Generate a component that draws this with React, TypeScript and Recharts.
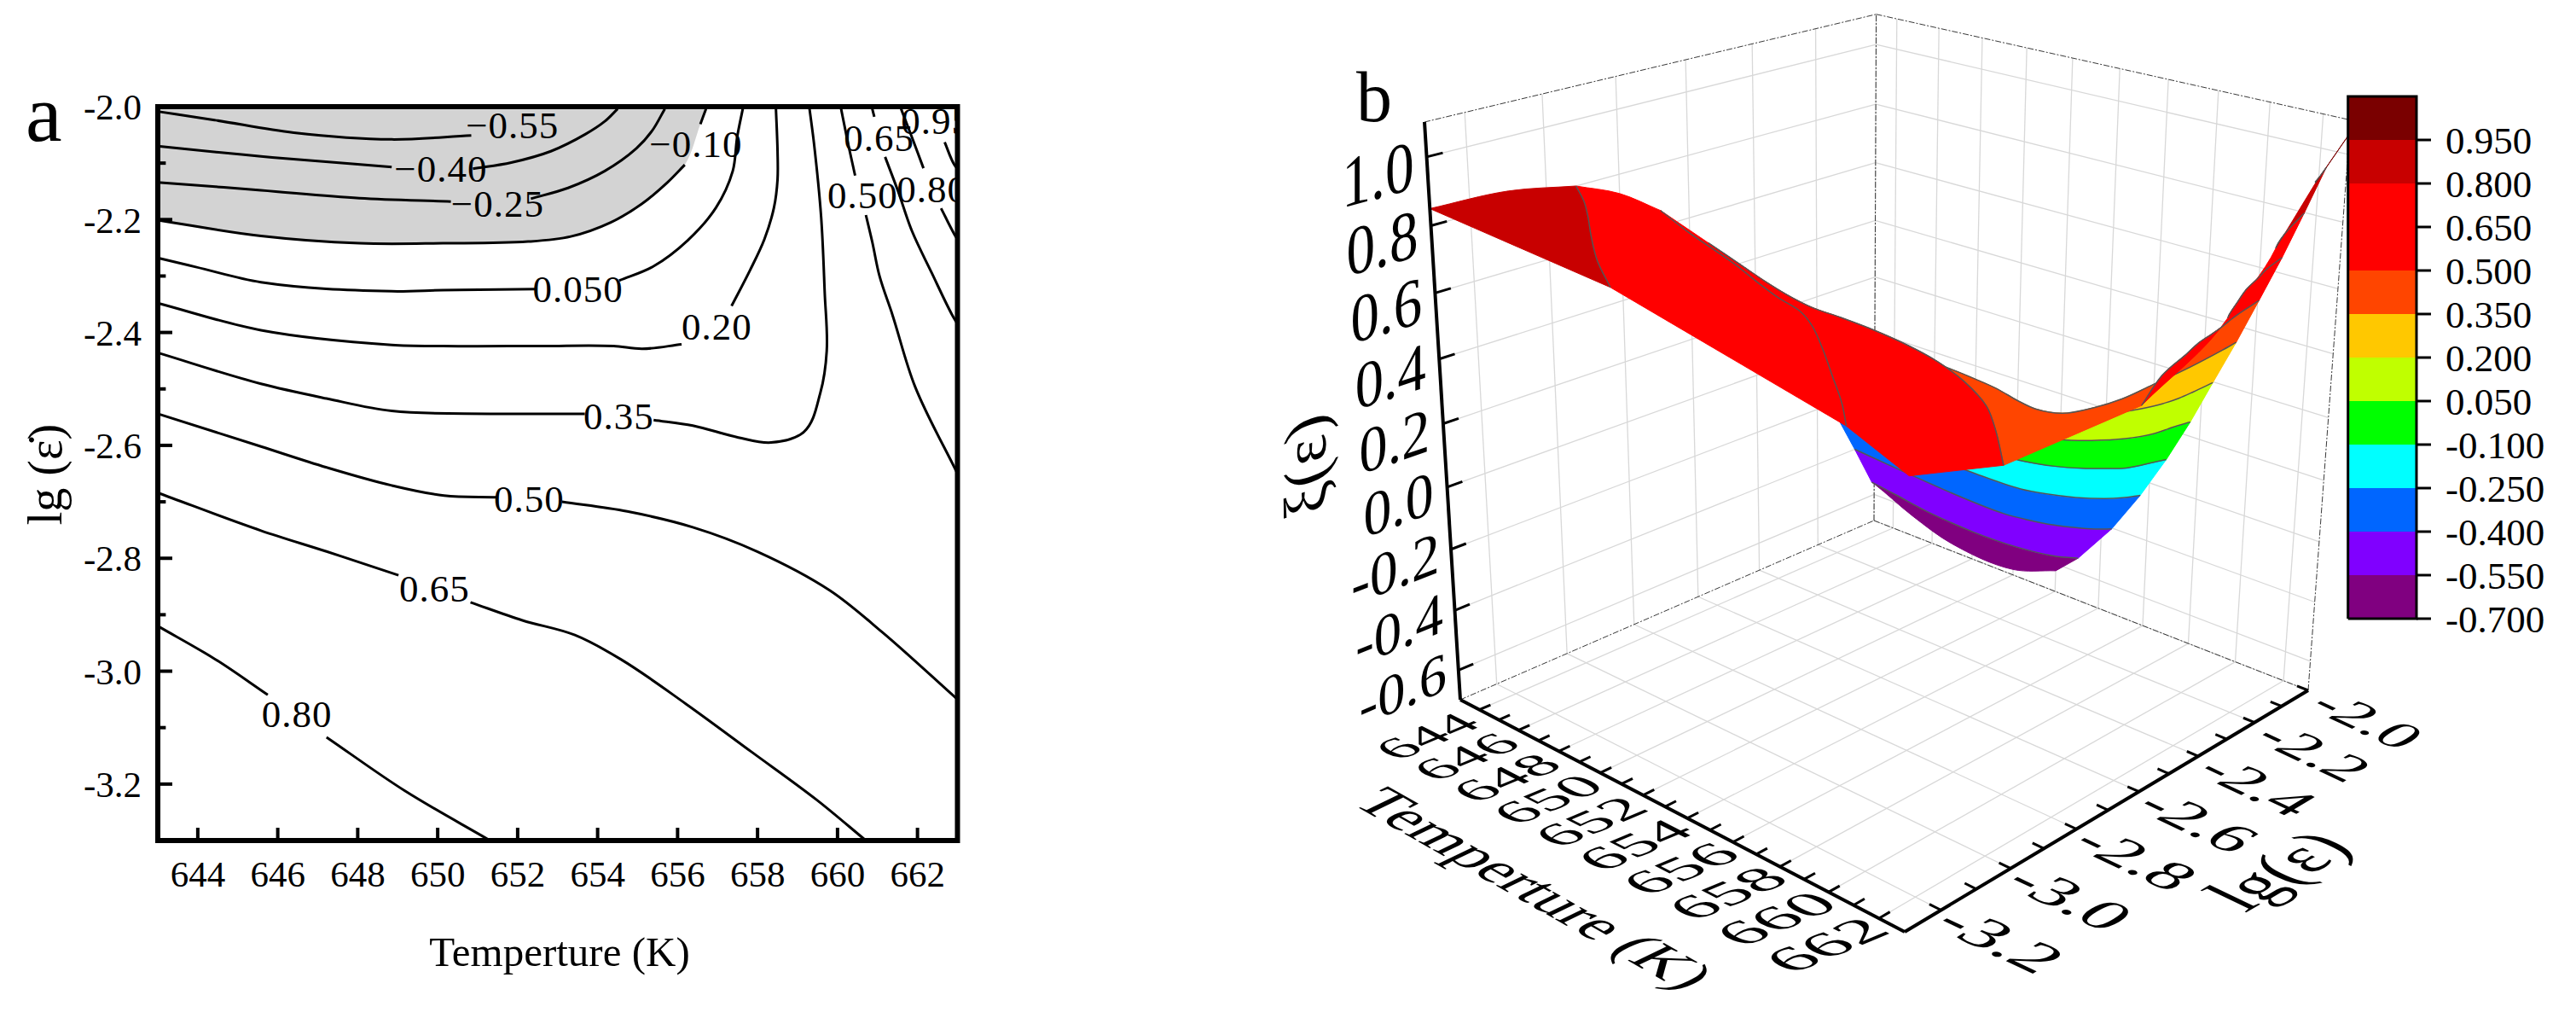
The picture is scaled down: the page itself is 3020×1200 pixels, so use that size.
import { Area, ComposedChart, Line, Scatter, XAxis, YAxis } from 'recharts'

type Pt = [number, number]
type Pt3 = [number, number, number]

const SERIF = '"Liberation Serif", serif'

// contour lines: [temperature, lg rate], split where an inline label interrupts them
const cM055: Pt[][] = [
  [[643, -2.0085], [644.44, -2.024], [646.4, -2.046], [648.85, -2.058], [650.84, -2.051]],
  [[652.3, -2.028]],
  [[653, -2]],
]
const cM040: Pt[][] = [
  [[643, -2.07], [645.58, -2.088], [648.85, -2.107]],
  [[650.88, -2.11], [651.84, -2.099], [652.83, -2.079], [653.69, -2.049], [654.18, -2.026], [654.5, -2.004]],
]
const cM025: Pt[][] = [
  [[643, -2.134], [645.58, -2.148], [648.04, -2.162], [650.33, -2.168]],
  [[652.33, -2.163], [653.26, -2.144], [654.18, -2.114], [654.97, -2.074], [655.36, -2.043], [655.68, -2.004]],
]
const cM010: Pt[][] = [
  [[643, -2.201], [645.58, -2.229], [648.04, -2.242], [650.13, -2.242], [652.26, -2.239], [653.33, -2.23], [654.33, -2.205], [655.11, -2.172], [655.75, -2.134], [656.18, -2.103]],
  [[656.57, -2.031], [656.71, -2.004]],
]
const c005: Pt[][] = [
  [[643, -2.268], [643.95, -2.284], [645.58, -2.311], [648.85, -2.327], [650.13, -2.325], [652.48, -2.323]],
  [[654.54, -2.308], [655.39, -2.283], [656.25, -2.237], [656.96, -2.179], [657.38, -2.114], [657.49, -2.054], [657.63, -2.004]],
]
const c020: Pt[][] = [
  [[643, -2.348], [645.58, -2.396], [648.85, -2.422], [650.13, -2.424], [652.62, -2.424], [654.4, -2.424], [655.11, -2.429], [656.1, -2.421]],
  [[657.35, -2.353], [657.81, -2.29], [658.17, -2.235], [658.41, -2.179], [658.5, -2.129], [658.5, -2.079], [658.46, -2.004]],
]
const c035: Pt[][] = [
  [[643, -2.436], [645.58, -2.491], [647.22, -2.517], [648.85, -2.539], [651.31, -2.544], [653.68, -2.544]],
  [[655.4, -2.555], [656.38, -2.565], [657.52, -2.586], [658.34, -2.595], [659.16, -2.576], [659.57, -2.507], [659.73, -2.433], [659.68, -2.33], [659.59, -2.195], [659.41, -2.064], [659.3, -2.004]],
]
const c050Main: Pt[][] = [
  [[643, -2.544], [645.58, -2.602], [647.22, -2.639], [648.85, -2.671], [650.16, -2.689], [651.47, -2.692]],
  [[653.11, -2.7], [654.74, -2.717], [656.38, -2.745], [657.99, -2.788], [659.81, -2.857], [661.12, -2.931], [663, -3.05]],
]
const c050Branch: Pt[][] = [
  [[660.09, -2.004], [660.26, -2.064], [660.44, -2.122]],
  [[660.71, -2.192], [660.87, -2.24], [661.05, -2.3], [661.37, -2.368], [661.94, -2.496], [663, -2.65]],
]
const c065Main: Pt[][] = [
  [[643, -2.684], [645.58, -2.751], [647.22, -2.788], [649.02, -2.83]],
  [[650.82, -2.878], [652.12, -2.91], [653.43, -2.936], [654.58, -2.979], [656.21, -3.058], [657.85, -3.143], [659.48, -3.228], [660.71, -3.3]],
]
const c065Branch: Pt[][] = [
  [[660.87, -2.004], [660.92, -2.018]],
  [[661.19, -2.089], [661.51, -2.149], [661.86, -2.22], [662.36, -2.295], [662.86, -2.368], [663, -2.385]],
]
const c080Main: Pt[][] = [
  [[643, -2.92], [644.44, -2.979], [645.75, -3.042]],
  [[647.22, -3.117], [649.18, -3.212], [651.31, -3.3]],
]
const c080Branch: Pt[][] = [
  [[661.59, -2.004], [661.86, -2.054], [662.15, -2.109]],
  [[662.59, -2.18], [662.93, -2.227], [663, -2.235]],
]
const c095Branch: Pt[][] = [
  [[662.29, -2.004]],
  [[662.68, -2.063], [662.93, -2.104], [663, -2.11]],
]

const contourLines = [cM055, cM040, cM025, cM010, c005, c020, c035, c050Main, c050Branch, c065Main, c065Branch, c080Main, c080Branch, c095Branch]

// inline contour labels of panel a
const contourLabels: { text: string; x: number; y: number }[] = [
  { text: '−0.55', x: 651.87, y: -2.034 },
  { text: '−0.40', x: 650.08, y: -2.111 },
  { text: '−0.25', x: 651.5, y: -2.173 },
  { text: '−0.10', x: 656.46, y: -2.067 },
  { text: '0.050', x: 653.51, y: -2.323 },
  { text: '0.20', x: 656.98, y: -2.39 },
  { text: '0.35', x: 654.53, y: -2.549 },
  { text: '0.50', x: 652.29, y: -2.696 },
  { text: '0.65', x: 649.92, y: -2.854 },
  { text: '0.80', x: 646.48, y: -3.076 },
  { text: '0.50', x: 660.63, y: -2.157 },
  { text: '0.65', x: 661.04, y: -2.056 },
  { text: '0.80', x: 662.36, y: -2.146 },
  { text: '0.95', x: 662.47, y: -2.026 },
]

const tempTicks = [644, 646, 648, 650, 652, 654, 656, 658, 660, 662]
const tempAllTicks = [644, 645, 646, 647, 648, 649, 650, 651, 652, 653, 654, 655, 656, 657, 658, 659, 660, 661, 662]
const rateTicks = [-2, -2.2, -2.4, -2.6, -2.8, -3, -3.2]
const rateMinor = [-2.1, -2.3, -2.5, -2.7, -2.9, -3.1]
const xiTicks = [-0.6, -0.4, -0.2, 0, 0.2, 0.4, 0.6, 0.8, 1]

// colour scale of panel b, bottom to top
const scaleEdges = [-0.7, -0.55, -0.4, -0.25, -0.1, 0.05, 0.2, 0.35, 0.5, 0.65, 0.8, 0.95, 1.1]
const scaleColors = ['#800080', '#8000FF', '#0066FF', '#00FFFF', '#00FF00', '#C0FF00', '#FFC800', '#FF4500', '#FF0000', '#FF0000', '#C80000', '#7A0000']
const scaleTicks = [-0.7, -0.55, -0.4, -0.25, -0.1, 0.05, 0.2, 0.35, 0.5, 0.65, 0.8, 0.95]

// heights read along the rims of the surface
const rimLow: Pt3[] = [[652, -2, -0.625], [650, -2, -0.68], [647, -2, -0.673], [645, -2, -0.626], [643, -2, -0.56]]
const rimLeftHigh: Pt3[] = [[643, -3.3, 0.85], [643, -3.1, 0.84]]
const rimLeftMid: Pt3 = [643, -2.8, 0.74]
const cornerFront: Pt3 = [663, -3.3, 0.58]
const cornerRight: Pt3 = [663, -2, 1.06]

// box corners of the 3D view on the page; the perspective weights follow from them
const vA = [1712, 820]
const vB = [2233, 1092]
const vC = [2706, 809]
const vD = [2197, 610]
const vE = [1670, 143]
const sumX = vA[0] - vB[0] + vC[0] - vD[0]
const sumY = vA[1] - vB[1] + vC[1] - vD[1]
const d1 = [vB[0] - vC[0], vB[1] - vC[1]]
const d2 = [vD[0] - vC[0], vD[1] - vC[1]]
const det = d1[0] * d2[1] - d2[0] * d1[1]
const wS = (sumX * d2[1] - d2[0] * sumY) / det
const wR = (d1[0] * sumY - sumX * d1[1]) / det
const wQ = -0.085

function project([t, lg, xi]: Pt3) {
  const s = (t - 643) / 20
  const r = (lg + 3.3) / 1.3
  const q = (xi + 0.7) / 1.8
  const w = 1 + wS * s + wR * r + wQ * q
  const at = (i: number) =>
    (vA[i] + (vB[i] * (1 + wS) - vA[i]) * s + (vD[i] * (1 + wR) - vA[i]) * r + (vE[i] * (1 + wQ) - vA[i]) * q) / w
  return { x: at(0), y: at(1) }
}

// curve type for Recharts: a smooth cubic through the points; a turn sharper than minCos stays a corner
const smoothCurve = (minCos: number) => (context: any) => {
  let pts: number[][] = []
  let line = NaN
  const unit = (x: number, y: number) => {
    const n = Math.hypot(x, y) || 1
    return [x / n, y / n]
  }
  const tangent = (i: number) => {
    if (i === 0 || i === pts.length - 1) return null
    const a = unit(pts[i][0] - pts[i - 1][0], pts[i][1] - pts[i - 1][1])
    const b = unit(pts[i + 1][0] - pts[i][0], pts[i + 1][1] - pts[i][1])
    if (a[0] * b[0] + a[1] * b[1] < minCos) return null
    return unit(a[0] + b[0], a[1] + b[1])
  }
  return {
    areaStart() {
      line = 0
    },
    areaEnd() {
      line = NaN
    },
    lineStart() {
      pts = []
    },
    point(x: number, y: number) {
      pts.push([x, y])
    },
    lineEnd() {
      if (pts.length) {
        if (line) context.lineTo(pts[0][0], pts[0][1])
        else context.moveTo(pts[0][0], pts[0][1])
        for (let i = 0; i + 1 < pts.length; i++) {
          const [x0, y0] = pts[i]
          const [x1, y1] = pts[i + 1]
          const len = Math.hypot(x1 - x0, y1 - y0) / 3
          const dir = unit(x1 - x0, y1 - y0)
          const t0 = tangent(i) || dir
          const t1 = tangent(i + 1) || dir
          context.bezierCurveTo(x0 + t0[0] * len, y0 + t0[1] * len, x1 - t1[0] * len, y1 - t1[1] * len, x1, y1)
        }
      }
      if (line || (line !== 0 && pts.length === 1)) context.closePath()
      line = 1 - line
    },
  }
}
const contourCurve = smoothCurve(-1) as any
const surfaceCurve = smoothCurve(0.88) as any

const lift = (segs: Pt[][], xi: number): Pt3[] => segs.flat().map(([t, lg]) => [t, lg, xi] as Pt3)
const viewRows = (pts: Pt3[]) => pts.map(project)
const closed = <T,>(rows: T[]) => [...rows, rows[0]]
const flip = <T,>(arr: T[]) => [...arr].reverse()

const lM055 = lift(cM055, -0.55)
const lM040 = lift(cM040, -0.4)
const lM025 = lift(cM025, -0.25)
const lM010 = lift(cM010, -0.1)
const l005 = lift(c005, 0.05)
const l020 = lift(c020, 0.2)
const l035 = lift(c035, 0.35)
const l050M = lift(c050Main, 0.5)
const l050B = lift(c050Branch, 0.5)
const l065M = lift(c065Main, 0.65)
const l065B = lift(c065Branch, 0.65)
const l080M = lift(c080Main, 0.8)
const l080B = lift(c080Branch, 0.8)
const l095B = lift(c095Branch, 0.95)

// painted low to high: the higher sheets of the surface are the ones nearer the viewer
const surfaceBands: { color: string; verts: Pt3[]; edges: Pt3[][] }[] = [
  { color: scaleColors[0], verts: [...lM055, ...rimLow], edges: [] },
  { color: scaleColors[1], verts: [...lM055, ...flip(lM040)], edges: [lM055] },
  { color: scaleColors[2], verts: [...lM040, ...flip(lM025)], edges: [lM040] },
  { color: scaleColors[3], verts: [...lM025, ...flip(lM010)], edges: [lM025] },
  { color: scaleColors[4], verts: [...lM010, ...flip(l005)], edges: [lM010] },
  { color: scaleColors[5], verts: [...l005, ...flip(l020)], edges: [l005] },
  { color: scaleColors[6], verts: [...l020, ...flip(l035)], edges: [l020] },
  { color: scaleColors[7], verts: [...l035, ...l050B, ...flip(l050M)], edges: [l035] },
  { color: scaleColors[8], verts: [...l050B, ...flip(l065B)], edges: [l050B] },
  { color: scaleColors[8], verts: [...l050M, cornerFront, ...flip(l065M)], edges: [l050M] },
  { color: scaleColors[9], verts: [...l065B, ...flip(l080B)], edges: [l065B] },
  { color: scaleColors[9], verts: [...l065M, ...flip(l080M), rimLeftMid], edges: [l065M] },
  { color: scaleColors[10], verts: [...l080B, ...flip(l095B)], edges: [l080B] },
  { color: scaleColors[10], verts: [...l080M, ...rimLeftHigh], edges: [l080M] },
  { color: scaleColors[11], verts: [...l095B, cornerRight], edges: [l095B] },
]

const gridSegments: Pt3[][] = [
  ...tempTicks.map((t): Pt3[] => [[t, -3.3, -0.7], [t, -2, -0.7]]),
  ...rateTicks.map((lg): Pt3[] => [[643, lg, -0.7], [663, lg, -0.7]]),
  ...rateTicks.map((lg): Pt3[] => [[643, lg, -0.7], [643, lg, 1.1]]),
  ...xiTicks.map((xi): Pt3[] => [[643, -3.3, xi], [643, -2, xi]]),
  ...tempTicks.map((t): Pt3[] => [[t, -2, -0.7], [t, -2, 1.1]]),
  ...xiTicks.map((xi): Pt3[] => [[643, -2, xi], [663, -2, xi]]),
]

const boxSegments: Pt3[][] = [
  [[643, -3.3, -0.7], [643, -2, -0.7]],
  [[643, -2, -0.7], [663, -2, -0.7]],
  [[643, -2, -0.7], [643, -2, 1.1]],
  [[643, -3.3, 1.1], [643, -2, 1.1]],
  [[643, -2, 1.1], [663, -2, 1.1]],
  [[663, -2, -0.7], [663, -2, 1.1]],
]

const axisSegments: Pt3[][] = [
  [[643, -3.3, -0.7], [663, -3.3, -0.7]],
  [[663, -3.3, -0.7], [663, -2, -0.7]],
  [[643, -3.3, -0.7], [643, -3.3, 1.1]],
  ...tempAllTicks.map((t): Pt3[] => [[t, -3.3, -0.7], [t, -3.27, -0.7]]),
  ...[...rateTicks, ...rateMinor].map((lg): Pt3[] => [[663, lg, -0.7], [662.55, lg, -0.7]]),
  ...xiTicks.map((xi): Pt3[] => [[643, -3.3, xi], [643, -3.26, xi]]),
]

const shifted = (p: { x: number; y: number }, dx: number, dy: number) => ({ x: p.x + dx, y: p.y + dy })

const tempLabelRows = tempTicks.map((t) => {
  const grow = 1 + ((t - 644) / 18) * 0.18
  return {
    ...shifted(project([t, -3.3, -0.7]), -62, 31),
    text: String(t),
    size: 60,
    m: [1.12 * grow, -0.47 * grow, 0.8 * grow, 0.41 * grow],
  }
})
const rateLabelRows = rateTicks.map((lg) => {
  const grow = 0.96 + ((-2 - lg) / 1.2) * 0.14
  return {
    ...shifted(project([663, lg, -0.7]), 70, 35),
    text: lg.toFixed(1),
    size: 60,
    m: [1.19 * grow, 0.56 * grow, -0.9 * grow, 0.54 * grow],
  }
})
const xiLabelRows = xiTicks.map((xi) => {
  const tilt = ((-15 - (1 - xi) * 5) * Math.PI) / 180
  return {
    ...shifted(project([643, -3.3, xi]), xi < 0 ? -65 : -57, xi < 0 ? 22 : 20),
    text: xi.toFixed(1),
    size: 70,
    m: [Math.cos(tilt), Math.sin(tilt), 0, 1.05 + 0.15 * xi],
  }
})
const titleRows = [
  { x: 1800, y: 1041, text: 'Temperture (K)', size: 60, m: [1.04, 0.59, -1.08, 0.52] },
  { x: 2670, y: 1020, text: 'lg(ε)', size: 60, m: [1.15, -0.67, 1.29, 0.62] },
  { x: 1530, y: 547, text: 'ξ(ε)', size: 72, m: [0, -1.04, 0.98, -0.34] },
]

const PlacedText = (props: any) => {
  const { cx, cy, payload } = props
  const [a, b, c, d] = payload.m
  return (
    <text
      transform={`matrix(${a} ${b} ${c} ${d} ${cx} ${cy})`}
      y={payload.size * 0.34}
      textAnchor="middle"
      fontFamily={SERIF}
      fontSize={payload.size}
      fill="#000"
    >
      {payload.text}
    </text>
  )
}

const ContourLabel = (props: any) => (
  <text
    x={props.cx}
    y={props.cy + 15}
    textAnchor="middle"
    fontFamily={SERIF}
    fontSize={45}
    letterSpacing={1}
    fill="#000"
    clipPath="url(#plot-a)"
  >
    {props.payload.text}
  </text>
)

const tickFont = { fontSize: 43, fill: '#000', fontFamily: SERIF }
const tickLine = { stroke: '#000', strokeWidth: 4 }

function PanelA() {
  const rows = (seg: Pt[]) => seg.map(([x, y]) => ({ x, y }))
  const gray = closed(rows([...cM010.flat(), [643, -2]]))
  const frame = closed(rows([[643, -2], [663, -2], [663, -3.3], [643, -3.3]]))
  return (
    <ComposedChart
      width={1200}
      height={1200}
      margin={{ top: 125, right: 77.5, bottom: 135, left: 55 }}
      style={{ position: 'absolute', left: 0, top: 0 }}
    >
      <XAxis
        dataKey="x"
        type="number"
        domain={[643, 663]}
        ticks={tempTicks}
        interval={0}
        height={80}
        tickSize={-15}
        tickMargin={38}
        tick={tickFont}
        tickLine={tickLine}
        axisLine={false}
      />
      <YAxis
        dataKey="y"
        type="number"
        domain={[-3.3, -2]}
        ticks={rateTicks}
        interval={0}
        width={130}
        tickSize={-17}
        tickMargin={36}
        tickFormatter={(v: number) => v.toFixed(1)}
        tick={tickFont}
        tickLine={tickLine}
        axisLine={false}
      />
      <Area data={gray} dataKey="y" type={surfaceCurve} baseValue={-3.3} fill="#D3D3D3" fillOpacity={1} stroke="none" dot={false} activeDot={false} isAnimationActive={false} />
      {contourLines.flatMap((segs, i) =>
        segs
          .filter((seg) => seg.length > 1)
          .map((seg, j) => (
            <Line key={`${i}-${j}`} data={rows(seg)} dataKey="y" type={contourCurve} stroke="#000" strokeWidth={3} dot={false} activeDot={false} isAnimationActive={false} />
          )),
      )}
      {rateMinor.map((lg) => (
        <Line key={lg} data={rows([[643, lg], [643.2, lg]])} dataKey="y" type="linear" stroke="#000" strokeWidth={4} dot={false} activeDot={false} isAnimationActive={false} />
      ))}
      <Line data={frame} dataKey="y" type="linear" stroke="#000" strokeWidth={6} strokeLinecap="square" dot={false} activeDot={false} isAnimationActive={false} />
      <Scatter data={contourLabels} shape={ContourLabel} isAnimationActive={false} />
    </ComposedChart>
  )
}

function PanelB() {
  // everything that must stack with the surface is an Area, so that the order below is the paint order
  const stroked = (seg: Pt3[], key: string, stroke: string, width: number, dash?: string, curve: any = 'linear') => (
    <Area key={key} data={viewRows(seg)} dataKey="y" type={curve} baseValue={1200} fill="none" stroke={stroke} strokeWidth={width} strokeDasharray={dash} dot={false} activeDot={false} isAnimationActive={false} />
  )
  return (
    <ComposedChart width={1620} height={1200} margin={{ top: 0, right: 0, bottom: 0, left: 0 }} style={{ position: 'absolute', left: 1400, top: 0 }}>
      <XAxis dataKey="x" type="number" domain={[1400, 3020]} hide />
      <YAxis dataKey="y" type="number" domain={[0, 1200]} reversed hide />
      {gridSegments.map((seg, i) => stroked(seg, `g${i}`, '#D8D8D8', 1.3))}
      {boxSegments.map((seg, i) => stroked(seg, `b${i}`, '#222', 0.9, '7 2 2 2'))}
      {surfaceBands.flatMap((band, i) => [
        <Area
          key={`s${i}`}
          data={closed(viewRows(band.verts))}
          dataKey="y"
          type={surfaceCurve}
          baseValue={1200}
          fill={band.color}
          fillOpacity={1}
          stroke={band.color}
          strokeWidth={1}
          dot={false}
          activeDot={false}
          isAnimationActive={false}
        />,
        ...band.edges.map((edge, j) => stroked(edge, `e${i}-${j}`, '#555555', 1.5, undefined, surfaceCurve)),
      ])}
      {axisSegments.map((seg, i) => (
        <Line key={`a${i}`} data={viewRows(seg)} dataKey="y" type="linear" stroke="#000" strokeWidth={i < 3 ? 4 : 3} dot={false} activeDot={false} isAnimationActive={false} />
      ))}
      <Scatter data={[...tempLabelRows, ...rateLabelRows, ...xiLabelRows, ...titleRows]} shape={PlacedText} isAnimationActive={false} />
    </ComposedChart>
  )
}

function ColorScale() {
  const box = (lo: number, hi: number) => closed([{ x: 0, y: lo }, { x: 1, y: lo }, { x: 1, y: hi }, { x: 0, y: hi }])
  return (
    <ComposedChart width={320} height={1200} margin={{ top: 113, right: 0, bottom: 475, left: 52.7 }} style={{ position: 'absolute', left: 2700, top: 0 }}>
      <XAxis dataKey="x" type="number" domain={[0, 1]} hide />
      <YAxis
        dataKey="y"
        orientation="right"
        type="number"
        domain={[-0.7, 1.1]}
        ticks={scaleTicks}
        interval={0}
        width={187}
        tickSize={17}
        tickMargin={17}
        tickFormatter={(v: number) => v.toFixed(3)}
        tick={{ fontSize: 45, fill: '#000', fontFamily: SERIF }}
        tickLine={{ stroke: '#000', strokeWidth: 3 }}
        axisLine={false}
      />
      {scaleColors.map((c, i) => (
        <Area key={i} data={box(scaleEdges[i], scaleEdges[i + 1])} dataKey="y" type="linear" baseValue={-0.7} fill={c} fillOpacity={1} stroke="none" dot={false} activeDot={false} isAnimationActive={false} />
      ))}
      <Line data={box(-0.7, 1.1)} dataKey="y" type="linear" stroke="#000" strokeWidth={3} dot={false} activeDot={false} isAnimationActive={false} />
    </ComposedChart>
  )
}

const pageText = (left: number, top: number, fontSize: number, transform?: string): React.CSSProperties => ({
  position: 'absolute',
  left,
  top,
  fontSize,
  fontFamily: SERIF,
  lineHeight: 1,
  whiteSpace: 'nowrap',
  transform,
})

export default function App() {
  return (
    <div style={{ position: 'absolute', left: 0, top: 0, width: 3020, height: 1200, background: '#fff', overflow: 'hidden' }}>
      <svg width={0} height={0} style={{ position: 'absolute' }}>
        <clipPath id="plot-a">
          <rect x={0} y={0} width={1120} height={1200} />
        </clipPath>
      </svg>
      <PanelA />
      <PanelB />
      <ColorScale />
      <div style={pageText(30, 85, 96)}>a</div>
      <div style={pageText(1590, 72, 84)}>b</div>
      <div style={pageText(656, 1115, 49, 'translate(-50%,-50%)')}>Temperture (K)</div>
      <div style={pageText(53, 556, 56, 'translate(-50%,-50%) rotate(-90deg)')}>lg (ε̇)</div>
    </div>
  )
}
